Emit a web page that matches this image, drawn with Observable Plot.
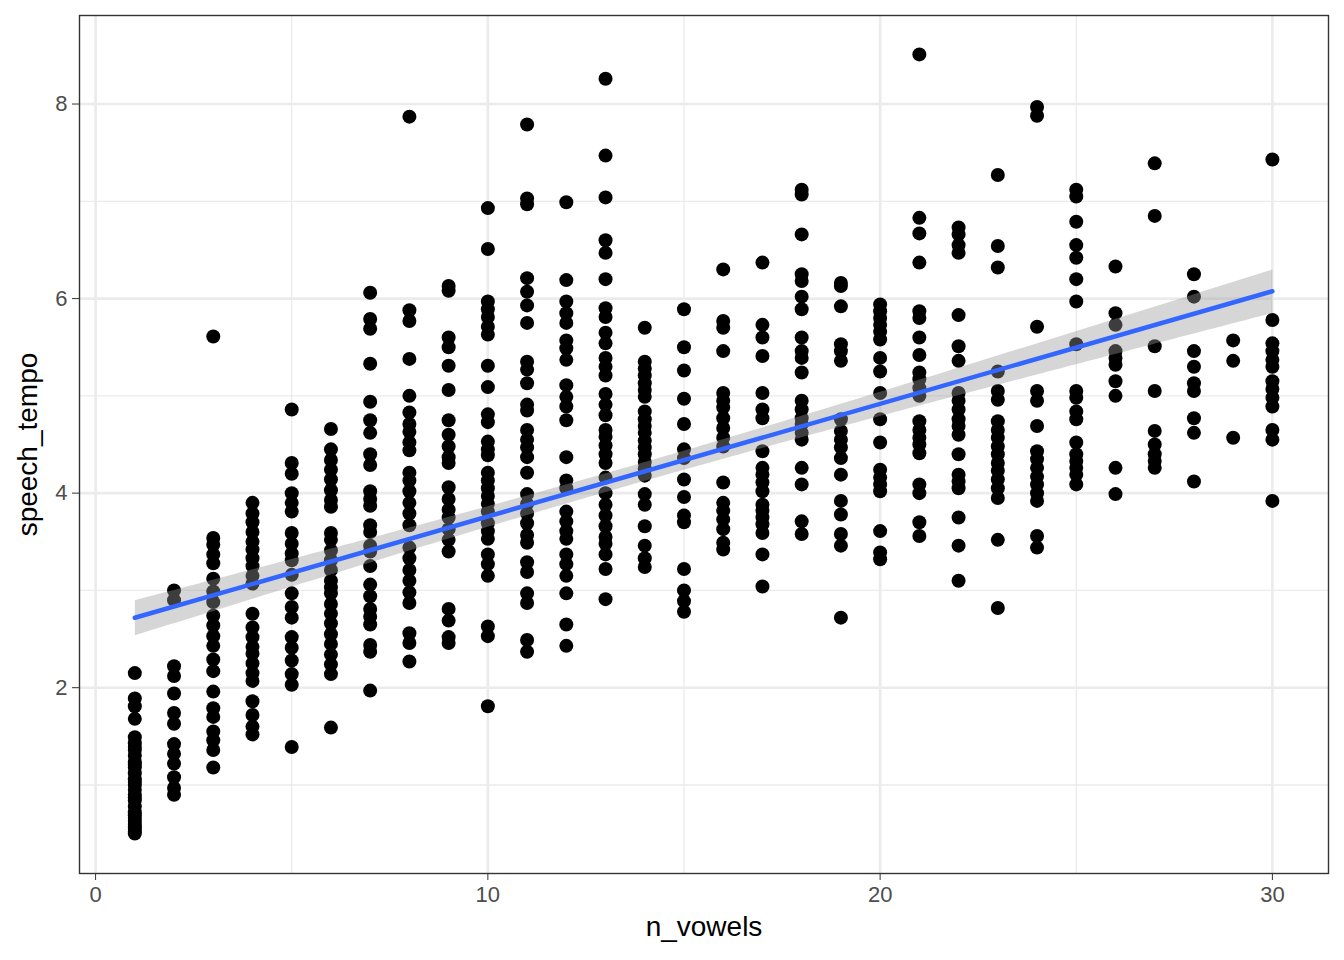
<!DOCTYPE html>
<html>
<head>
<meta charset="utf-8">
<script src="https://cdn.jsdelivr.net/npm/d3@7"></script>
<script src="https://cdn.jsdelivr.net/npm/@observablehq/plot@0.6"></script>
<style>
  html, body { margin: 0; padding: 0; background: white; }
</style>
</head>
<body>
<div id="chart"></div>
<script>
// speech_tempo values, one array per n_vowels value (dense stacks hide overlapping points)
const t01 = [2.15, 1.89, 1.81, 1.68, 1.49, 1.43, 1.39, 1.36, 1.3, 1.24, 1.21, 1.18, 1.12, 1.06, 1.03, 1.0, 0.95, 0.9, 0.87, 0.84, 0.78, 0.72, 0.69, 0.66, 0.63, 0.6, 0.57, 0.55, 0.52, 0.5];
const t02 = [3.0, 2.9, 2.22, 2.12, 1.94, 1.74, 1.63, 1.42, 1.32, 1.22, 1.08, 0.97, 0.9];
const t03 = [5.61, 3.54, 3.47, 3.37, 3.28, 3.12, 2.99, 2.88, 2.74, 2.64, 2.53, 2.43, 2.29, 2.17, 1.96, 1.79, 1.7, 1.55, 1.46, 1.36, 1.18];
const t04 = [3.9, 3.79, 3.7, 3.6, 3.5, 3.42, 3.33, 3.25, 3.15, 3.07, 2.76, 2.62, 2.52, 2.42, 2.35, 2.25, 2.15, 2.07, 1.86, 1.72, 1.6, 1.52];
const t05 = [4.86, 4.31, 4.2, 4.0, 3.9, 3.81, 3.59, 3.48, 3.38, 3.31, 3.16, 2.97, 2.83, 2.72, 2.52, 2.41, 2.28, 2.14, 2.03, 1.39];
const t06 = [4.66, 4.45, 4.34, 4.24, 4.14, 4.03, 3.93, 3.86, 3.59, 3.52, 3.41, 3.31, 3.21, 3.1, 3.03, 2.97, 2.86, 2.76, 2.66, 2.55, 2.45, 2.34, 2.24, 2.14, 1.59];
const t07 = [6.06, 5.79, 5.69, 5.33, 4.94, 4.75, 4.62, 4.4, 4.29, 4.02, 3.94, 3.87, 3.67, 3.6, 3.46, 3.4, 3.25, 3.06, 2.94, 2.81, 2.73, 2.65, 2.44, 2.37, 1.97];
const t08 = [7.87, 5.88, 5.77, 5.38, 5.0, 4.83, 4.71, 4.63, 4.52, 4.44, 4.21, 4.13, 4.02, 3.9, 3.79, 3.67, 3.44, 3.33, 3.21, 3.1, 2.98, 2.87, 2.56, 2.46, 2.27];
const t09 = [6.13, 6.08, 5.6, 5.5, 5.31, 5.06, 4.75, 4.6, 4.48, 4.37, 4.31, 4.06, 3.94, 3.83, 3.75, 3.63, 3.52, 3.4, 2.81, 2.69, 2.52, 2.46];
const t10 = [6.93, 6.51, 5.97, 5.89, 5.81, 5.71, 5.63, 5.31, 5.09, 4.81, 4.73, 4.53, 4.45, 4.39, 4.21, 4.13, 4.05, 3.97, 3.89, 3.81, 3.69, 3.61, 3.53, 3.37, 3.27, 3.15, 2.63, 2.53, 1.81];
const t11 = [7.79, 7.03, 6.97, 6.21, 6.07, 5.93, 5.75, 5.35, 5.27, 5.13, 4.91, 4.85, 4.65, 4.55, 4.47, 4.37, 4.21, 3.99, 3.89, 3.79, 3.69, 3.57, 3.49, 3.29, 3.19, 2.97, 2.87, 2.49, 2.37];
const t12 = [6.99, 6.19, 5.97, 5.85, 5.75, 5.57, 5.49, 5.37, 5.11, 4.99, 4.89, 4.75, 4.37, 4.13, 4.05, 3.81, 3.71, 3.61, 3.53, 3.37, 3.27, 3.15, 2.97, 2.65, 2.43];
const t13 = [8.26, 7.47, 7.04, 6.6, 6.47, 6.2, 5.9, 5.81, 5.65, 5.54, 5.39, 5.3, 5.21, 5.02, 4.91, 4.8, 4.65, 4.58, 4.49, 4.4, 4.31, 4.16, 4.0, 3.88, 3.77, 3.66, 3.55, 3.48, 3.37, 3.22, 2.91];
const t14 = [5.7, 5.35, 5.28, 5.21, 5.13, 5.06, 4.99, 4.84, 4.76, 4.69, 4.62, 4.54, 4.47, 4.4, 4.32, 4.25, 4.18, 3.99, 3.88, 3.66, 3.46, 3.33, 3.24];
const t15 = [5.89, 5.5, 5.26, 4.97, 4.71, 4.45, 4.36, 4.14, 3.96, 3.77, 3.7, 3.22, 3.0, 2.89, 2.78];
const t16 = [6.3, 5.77, 5.7, 5.46, 5.03, 4.95, 4.88, 4.77, 4.67, 4.57, 4.48, 4.11, 3.9, 3.82, 3.73, 3.63, 3.49, 3.42];
const t17 = [6.37, 5.73, 5.6, 5.41, 5.03, 4.86, 4.77, 4.43, 4.26, 4.19, 4.11, 4.02, 3.88, 3.82, 3.75, 3.68, 3.59, 3.37, 3.04];
const t18 = [7.12, 7.07, 6.66, 6.25, 6.18, 6.02, 5.89, 5.6, 5.46, 5.39, 5.24, 4.95, 4.86, 4.77, 4.71, 4.62, 4.55, 4.26, 4.09, 3.71, 3.58];
const t19 = [6.16, 6.13, 5.92, 5.53, 5.46, 5.36, 4.76, 4.64, 4.55, 4.47, 4.36, 4.19, 3.92, 3.78, 3.58, 3.46, 2.72];
const t20 = [5.94, 5.87, 5.8, 5.73, 5.66, 5.58, 5.39, 5.25, 5.03, 4.76, 4.52, 4.24, 4.16, 4.09, 4.02, 3.61, 3.39, 3.32];
const t21 = [8.51, 6.83, 6.67, 6.37, 5.87, 5.8, 5.6, 5.42, 5.24, 5.17, 5.08, 5.0, 4.74, 4.65, 4.57, 4.5, 4.41, 4.09, 4.0, 3.7, 3.56];
const t22 = [6.73, 6.66, 6.55, 6.47, 5.83, 5.51, 5.36, 5.03, 4.95, 4.86, 4.76, 4.69, 4.6, 4.4, 4.19, 4.12, 4.05, 3.75, 3.46, 3.1];
const t23 = [7.27, 6.54, 6.32, 5.25, 5.05, 4.96, 4.74, 4.65, 4.57, 4.48, 4.4, 4.31, 4.23, 4.14, 4.05, 3.95, 3.52, 2.82];
const t24 = [7.97, 7.88, 5.71, 5.05, 4.95, 4.69, 4.43, 4.35, 4.26, 4.17, 4.09, 4.0, 3.92, 3.56, 3.44];
const t25 = [7.12, 7.05, 6.79, 6.55, 6.42, 6.2, 5.97, 5.53, 5.05, 4.98, 4.84, 4.76, 4.52, 4.4, 4.33, 4.26, 4.19, 4.09];
const t26 = [6.33, 5.85, 5.73, 5.46, 5.39, 5.32, 5.15, 5.0, 4.26, 3.99];
const t27 = [7.39, 6.85, 5.51, 5.05, 4.64, 4.5, 4.4, 4.33, 4.26];
const t28 = [6.25, 6.02, 5.46, 5.3, 5.13, 5.05, 4.77, 4.62, 4.12];
const t29 = [5.57, 5.36, 4.57];
const t30 = [7.43, 5.78, 5.54, 5.46, 5.37, 5.3, 5.15, 5.07, 4.98, 4.89, 4.65, 4.55, 3.92];

const nVowels = d3.range(1, 31);
const tempoColumns = [t01, t02, t03, t04, t05, t06, t07, t08, t09, t10, t11, t12, t13, t14, t15,
                      t16, t17, t18, t19, t20, t21, t22, t23, t24, t25, t26, t27, t28, t29, t30];

const xTicks = [0, 10, 20, 30];
const xMinor = [5, 15, 25];
const yTicks = [2, 4, 6, 8];
const yMinor = [1, 3, 5, 7];

const data = nVowels.flatMap((n, i) => tempoColumns[i].map(t => ({n_vowels: n, speech_tempo: t})));

const font = "'Liberation Sans', Arial, Helvetica, sans-serif";

const chart = Plot.plot({
  width: 1344,
  height: 960,
  marginLeft: 79,
  marginRight: 16,
  marginTop: 15,
  marginBottom: 87,
  style: {fontFamily: font, background: "white", color: "#4D4D4D"},
  x: {domain: [-0.41, 31.43], label: null},
  y: {domain: [0.09, 8.91], label: null},
  marks: [
    Plot.gridX(xMinor, {stroke: "#EBEBEB", strokeOpacity: 1, strokeWidth: 1.3}),
    Plot.gridY(yMinor, {stroke: "#EBEBEB", strokeOpacity: 1, strokeWidth: 1.3}),
    Plot.gridX(xTicks, {stroke: "#EBEBEB", strokeOpacity: 1, strokeWidth: 2.6}),
    Plot.gridY(yTicks, {stroke: "#EBEBEB", strokeOpacity: 1, strokeWidth: 2.6}),
    Plot.dot(data, {x: "n_vowels", y: "speech_tempo", r: 7, fill: "black", stroke: null}),
    Plot.linearRegressionY(data, {x: "n_vowels", y: "speech_tempo", stroke: "#3366FF", strokeWidth: 4.5, fill: "#999999", fillOpacity: 0.4}),
    Plot.frame({stroke: "#333333", strokeWidth: 1.4}),
    Plot.axisX(xTicks, {tickSize: 7, tickPadding: 6, fontSize: 22, stroke: "#333333", fill: "#4D4D4D", label: null, tickFormat: d => String(d)}),
    Plot.axisY(yTicks, {tickSize: 7, tickPadding: 5, fontSize: 22, stroke: "#333333", fill: "#4D4D4D", label: null, tickFormat: d => String(d)}),
    Plot.text(["n_vowels"], {text: d => d, frameAnchor: "bottom", dy: 62, fontSize: 28, fill: "black"}),
    Plot.text(["speech_tempo"], {text: d => d, frameAnchor: "left", dx: -51, rotate: -90, textAnchor: "middle", fontSize: 28, fill: "black"})
  ]
});

document.getElementById("chart").appendChild(chart);
</script>
</body>
</html>
